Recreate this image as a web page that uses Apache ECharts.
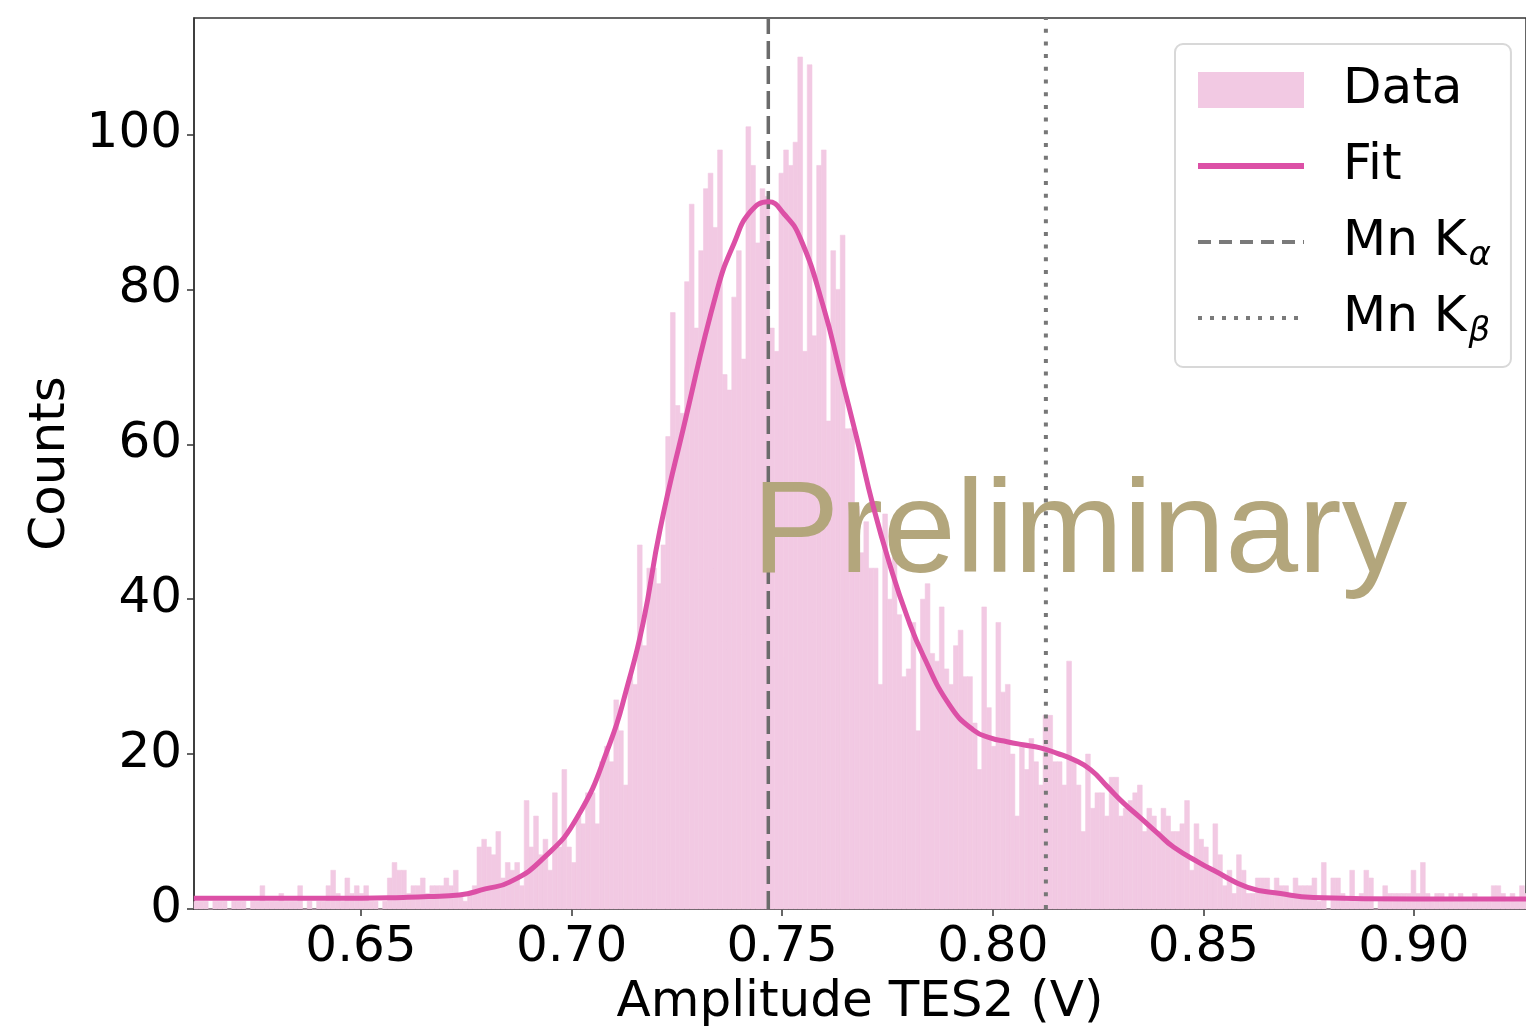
<!DOCTYPE html>
<html><head><meta charset="utf-8">
<script src="https://cdn.jsdelivr.net/npm/echarts@6/dist/echarts.min.js"></script>
<style>html,body{margin:0;padding:0;background:#fff;} #c{width:1526px;height:1027px;}</style>
</head><body><div id="c"></div>
<script>
// Histogram bins (left edge of first bin, bin width in V)
const binStart = 0.61035;
const binWidth = 0.00112;
// Counts per bin
const counts = [
  1,1,1,0,1,1,1,0,1,1,
  1,0,1,1,3,1,1,1,2,1,
  1,1,3,0,1,0,1,1,3,5,
  2,1,4,2,3,2,3,1,1,0,
  1,4,6,5,5,2,3,3,4,2,
  3,3,3,4,3,5,2,1,2,3,
  8,9,8,7,10,4,6,5,6,3,
  14,8,12,7,9,5,15,8,18,8,
  6,12,11,15,15,11,19,21,19,27,
  23,16,30,29,47,34,44,44,42,47,
  61,77,65,64,81,91,75,85,93,95,
  88,98,69,67,79,85,71,101,96,86,
  93,92,75,72,95,98,96,99,110,72,
  109,74,96,98,63,85,80,87,62,62,
  52,46,50,44,44,29,51,40,48,38,
  30,31,37,23,40,42,33,32,39,31,
  29,34,36,30,30,24,18,39,26,21,
  37,28,29,20,12,21,18,22,19,16,
  25,25,19,19,16,32,19,16,10,20,
  13,15,15,12,17,17,12,13,14,15,
  16,10,13,12,10,13,12,10,10,11,
  14,5,11,9,8,5,11,7,3,5,
  2,7,5,2,2,4,4,4,2,4,
  3,3,2,4,3,3,3,4,1,6,
  0,4,4,2,1,5,1,2,5,4,
  0,1,3,2,2,2,2,2,5,2,
  6,2,1,2,2,1,2,1,2,1,
  1,2,1,1,1,3,3,2,1,2,
  1,3,2
];
// Fit curve points
const fitX = [0.6103,0.63,0.65,0.66,0.6660,0.6733,0.6795,0.6854,0.6932,0.7013,0.7091,0.7132,0.7170,0.7210,0.7265,0.7346,0.7386,0.7424,0.7467,0.7505,0.7543,0.7597,0.7638,0.7678,0.7716,0.7757,0.7797,0.7835,0.7899,0.7954,0.7994,0.8034,0.8072,0.8113,0.8153,0.8191,0.8232,0.8272,0.8310,0.8350,0.8391,0.8429,0.8493,0.8524,0.8605,0.8683,0.8761,0.90,0.9266];
const fitY = [1.4,1.4,1.4,1.5,1.6,1.8,2.6,3.5,6.5,11.8,21.4,28.7,37,49,62,80,86,90,91.3,89.7,86.6,77.9,69.2,60.6,52,44.2,37.7,32.7,26.2,23.1,22.1,21.6,21.2,20.8,20.1,19.3,18,15.8,13.7,11.8,9.8,8,5.9,5,2.8,2.0,1.5,1.3,1.3];
// Reference lines
const kAlpha = 0.7467;
const kBeta = 0.8126;
// Axes
const xMin = 0.61035, xMax = 0.92659;
const yMin = 0, yMax = 115.04;
const xTicks = [0.65,0.70,0.75,0.80,0.85,0.90];
const yTicks = [0,20,40,60,80,100];

const FONT = 'DejaVu Sans';
const chart = echarts.init(document.getElementById('c'), null, {renderer:'canvas'});

const option = {
  animation: false,
  backgroundColor: '#fff',
  grid: {left:194, top:18, right:0, bottom:118, show:true, borderColor:'#333', borderWidth:1.5,
    outerBoundsMode:'none', containLabel:false},
  xAxis: {
    type:'value', min:xMin, max:xMax,
    name:'Amplitude TES2 (V)', nameLocation:'middle', nameGap:65,
    nameTextStyle:{fontFamily:FONT, fontSize:50, color:'#000'},
    axisLine:{show:true, lineStyle:{color:'#333', width:1.5}},
    axisTick:{show:true, length:7, lineStyle:{color:'#333', width:1.5}, customValues:xTicks},
    axisLabel:{customValues:xTicks, fontFamily:FONT, fontSize:50, color:'#000', margin:14,
      formatter:v=>v.toFixed(2)},
    splitLine:{show:false}
  },
  yAxis: {
    type:'value', min:yMin, max:yMax,
    name:'Counts', nameLocation:'middle', nameGap:112,
    nameTextStyle:{fontFamily:FONT, fontSize:50, color:'#000'},
    axisLine:{show:true, lineStyle:{color:'#333', width:1.5}},
    axisTick:{show:true, length:7, lineStyle:{color:'#333', width:1.5}, customValues:yTicks},
    axisLabel:{customValues:yTicks, fontFamily:FONT, fontSize:50, color:'#000', margin:12},
    splitLine:{show:false}
  },
  legend: {
    orient:'vertical', left:1175, top:44,
    itemWidth:106, itemHeight:36, itemGap:14,
    padding:[15,20,18,20],
    backgroundColor:'rgba(255,255,255,0.85)', borderColor:'#d8d8d8', borderWidth:2, borderRadius:8,
    data:[
      {name:'Data', icon:'rect'},
      {name:'Fit', itemStyle:{opacity:0}, lineStyle:{width:6, color:'#dc50a6'}},
      {name:'Mn Kα', itemStyle:{opacity:0}, lineStyle:{width:4, color:'#7a7a7a', type:[13,8]}},
      {name:'Mn Kβ', itemStyle:{opacity:0}, lineStyle:{width:4, color:'#7a7a7a', type:[4,8], cap:'butt'}}
    ],
    formatter:function(name){
      if (name === 'Mn Kα') return '{a|Mn K}{b|α}';
      if (name === 'Mn Kβ') return '{a|Mn K}{b|β}';
      return '{a|' + name + '}{b| }';
    },
    textStyle:{fontFamily:FONT, fontSize:50, color:'#000', padding:[0,0,0,34],
      rich:{
        a:{fontFamily:FONT, fontSize:50, lineHeight:62, color:'#000', verticalAlign:'middle'},
        b:{fontFamily:FONT, fontSize:34, lineHeight:34, fontStyle:'italic', color:'#000', verticalAlign:'bottom', padding:[28,0,0,2]}
      }
    }
  },
  graphic: [{
    type:'text', x:752, y:536, z:3,
    style:{text:'Preliminary', font:'131px "Liberation Sans"', fill:'#b3a67c',
      verticalAlign:'middle', textVerticalAlign:'middle', align:'left'}
  }],
  series: [
    {
      name:'Data', type:'custom', z:1,
      itemStyle:{color:'#f2c9e3'},
      data: counts.map((c,i)=>[binStart + i*binWidth, c]),
      renderItem:function(params, api){
        const x0 = api.value(0), c = api.value(1);
        const p0 = api.coord([x0, c]);
        const p1 = api.coord([x0 + binWidth, 0]);
        const cs = params.coordSys;
        const shape = echarts.graphic.clipRectByRect(
          {x:p0[0], y:p0[1], width:p1[0]-p0[0], height:p1[1]-p0[1]},
          {x:cs.x, y:cs.y, width:cs.width, height:cs.height});
        if (!shape) return null;
        return {type:'rect', shape:shape, style:{fill:'#f2c9e3', stroke:'#f2c9e3', lineWidth:0.6}};
      }
    },
    {
      name:'Mn Kα', type:'line', z:2, symbol:'none', silent:true,
      data:[[kAlpha, yMin],[kAlpha, yMax]],
      color:'#6b6b6b',
      lineStyle:{color:'#6b6b6b', width:3.5, type:[18,7]}
    },
    {
      name:'Mn Kβ', type:'line', z:2, symbol:'none', silent:true,
      data:[[kBeta, yMin],[kBeta, yMax]],
      color:'#777777',
      lineStyle:{color:'#777777', width:4, type:[4,8.7], cap:'butt'}
    },
    {
      name:'Fit', type:'line', z:5, symbol:'none', smooth:0.5,
      data: fitX.map((x,i)=>[x, fitY[i]]),
      color:'#dc50a6',
      lineStyle:{color:'#dc50a6', width:5}
    }
  ]
};
chart.setOption(option);
</script>
</body></html>
